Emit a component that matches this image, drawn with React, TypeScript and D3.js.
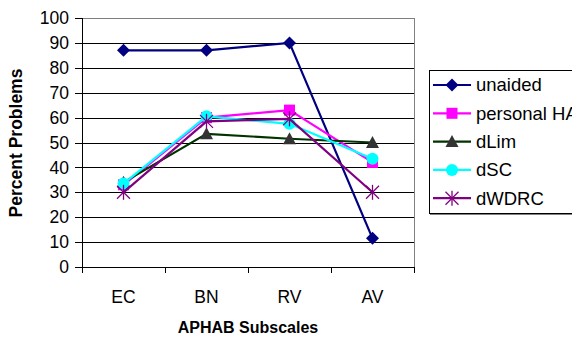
import React from "react";
import * as d3 from "d3";

const categories = ["EC", "BN", "RV", "AV"];
const yTicks = [0, 10, 20, 30, 40, 50, 60, 70, 80, 90, 100];
const unaided = [87, 87, 90, 11.5];
const personalHA = [33, 60, 63, 42];
const dLim = [34, 53.5, 51.5, 50];
const dSC = [33.5, 60.5, 57.5, 43.5];
const dWDRC = [30, 58.5, 59.5, 30];

const series = [
  { name: "unaided", values: unaided, color: "#000080", marker: "diamond" },
  { name: "personal HA", values: personalHA, color: "#FF00FF", marker: "square" },
  { name: "dLim", values: dLim, color: "#003300", marker: "triangle", markerColor: "#333333" },
  { name: "dSC", values: dSC, color: "#00FFFF", marker: "circle" },
  { name: "dWDRC", values: dWDRC, color: "#800080", marker: "star" },
];

function Marker({ type, x, y, color }: { type: string; x: number; y: number; color: string }) {
  if (type === "diamond") {
    const s = 6.5;
    return <path d={`M${x},${y - s}L${x + s},${y}L${x},${y + s}L${x - s},${y}Z`} fill={color} />;
  }
  if (type === "square") {
    return <rect x={x - 5.5} y={y - 5.5} width={11} height={11} fill={color} />;
  }
  if (type === "triangle") {
    return <path d={`M${x},${y - 6.5}L${x + 6.5},${y + 5.5}L${x - 6.5},${y + 5.5}Z`} fill={color} />;
  }
  if (type === "circle") {
    return <circle cx={x} cy={y} r={6} fill={color} />;
  }
  const s = 6.5;
  return (
    <g stroke={color} strokeWidth={1.3}>
      <line x1={x - s} y1={y - s} x2={x + s} y2={y + s} />
      <line x1={x - s} y1={y + s} x2={x + s} y2={y - s} />
      <line x1={x} y1={y - s - 1} x2={x} y2={y + s + 1} />
    </g>
  );
}

export default function App() {
  const W = 572, H = 338;
  const left = 82, right = 414, top = 18, bottom = 267;
  const x = d3.scaleBand().domain(categories).range([left, right]);
  const y = d3.scaleLinear().domain([0, 100]).range([bottom, top]);
  const line = d3
    .line<number>()
    .x((_, i) => (x(categories[i]) as number) + x.bandwidth() / 2)
    .y((d) => y(d));
  const font = "Arial, 'Liberation Sans', sans-serif";
  return (
    <svg width={W} height={H} style={{ position: "absolute", left: 0, top: 0 }} fontFamily={font}>
      <rect x={0} y={0} width={W} height={H} fill="#fff" />
      {yTicks.map((t) => (
        <g key={t}>
          {t > 0 && t < 100 && (
            <line x1={left} x2={right} y1={Math.round(y(t)) + 0.5} y2={Math.round(y(t)) + 0.5} stroke="#000" strokeWidth={1} />
          )}
          <line x1={left - 7} x2={left} y1={Math.round(y(t)) + 0.5} y2={Math.round(y(t)) + 0.5} stroke="#000" />
          <text x={left - 13} y={y(t)} dy="0.35em" textAnchor="end" fontSize={17.5} fill="#000">
            {t}
          </text>
        </g>
      ))}
      <line x1={left} x2={right} y1={top + 0.5} y2={top + 0.5} stroke="#808080" />
      <line x1={right + 0.5} x2={right + 0.5} y1={top} y2={bottom} stroke="#808080" />
      <line x1={left + 0.5} x2={left + 0.5} y1={top} y2={bottom + 6} stroke="#000" />
      <line x1={left} x2={right} y1={bottom + 0.5} y2={bottom + 0.5} stroke="#000" />
      {categories.map((c) => (
        <g key={c}>
          <line
            x1={Math.round((x(c) as number) + x.bandwidth()) + 0.5}
            x2={Math.round((x(c) as number) + x.bandwidth()) + 0.5}
            y1={bottom}
            y2={bottom + 6}
            stroke="#000"
          />
          <text x={(x(c) as number) + x.bandwidth() / 2} y={297} textAnchor="middle" fontSize={17.5} fill="#000" dy="0.35em">
            {c}
          </text>
        </g>
      ))}
      <text x={248} y={327} textAnchor="middle" fontSize={16} fontWeight="bold" dy="0.35em">
        APHAB Subscales
      </text>
      <text
        transform={`translate(16,143) rotate(-90)`}
        textAnchor="middle"
        fontSize={17.5}
        fontWeight="bold"
        dy="0.35em"
      >
        Percent Problems
      </text>
      {series.map((s) => (
        <g key={s.name}>
          <path d={line(s.values) || ""} fill="none" stroke={s.color} strokeWidth={2.2} />
          {s.values.map((v, i) => (
            <Marker
              key={i}
              type={s.marker}
              x={(x(categories[i]) as number) + x.bandwidth() / 2}
              y={y(v)}
              color={(s as any).markerColor || s.color}
            />
          ))}
        </g>
      ))}
      <rect x={429.5} y={70.5} width={160} height={143} fill="#fff" stroke="#000" />
      <line x1={430} x2={580} y1={214.5} y2={214.5} stroke="#808080" />
      {series.map((s, i) => {
        const ly = 85 + i * 28.3;
        return (
          <g key={s.name}>
            <line x1={433} x2={471} y1={ly} y2={ly} stroke={s.color} strokeWidth={2.2} />
            <Marker type={s.marker} x={452} y={ly} color={(s as any).markerColor || s.color} />
            <text x={476} y={ly} dy="0.35em" fontSize={18.5} fill="#000">
              {s.name}
            </text>
          </g>
        );
      })}
    </svg>
  );
}
